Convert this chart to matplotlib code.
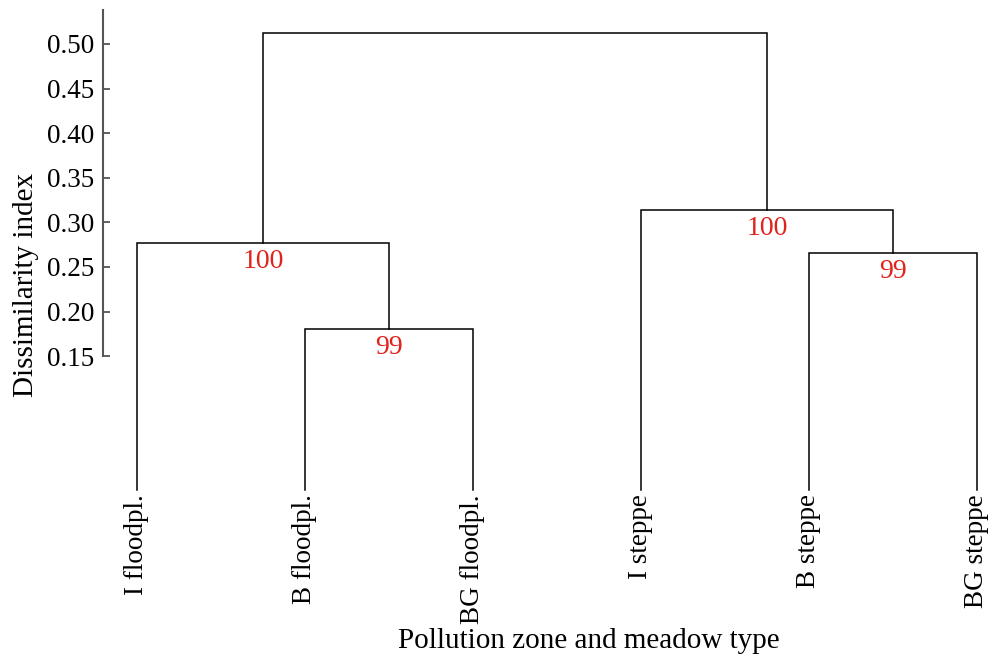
import matplotlib
matplotlib.use("Agg")
import matplotlib.pyplot as plt

plt.rcParams['font.family'] = ['Liberation Serif', 'DejaVu Serif']

leaf_labels = ["I floodpl.", "B floodpl.", "BG floodpl.", "I steppe", "B steppe", "BG steppe"]
# merges: (node_a, node_b, height, support); nodes 0-5 leaves, 6+ merged clusters
merge_a = [1, 4, 0, 3, 8]
merge_b = [2, 5, 6, 7, 9]
merge_h = [0.181, 0.266, 0.277, 0.314, 0.512]
merge_support = ["99", "99", "100", "100", ""]
yticks = [0.15, 0.20, 0.25, 0.30, 0.35, 0.40, 0.45, 0.50]

fig = plt.figure(figsize=(9.9, 6.54), dpi=100)
ax = fig.add_axes([103/990, (654-490)/654, (985-103)/990, 480/654])

xs = {i: float(i) for i in range(len(leaf_labels))}
hs = {i: 0.0 for i in range(len(leaf_labels))}
red = '#e0231c'
for k, (a, b, h, s) in enumerate(zip(merge_a, merge_b, merge_h, merge_support)):
    node = len(leaf_labels) + k
    xa, xb = xs[a], xs[b]
    ax.plot([xa, xa, xb, xb], [hs[a], h, h, hs[b]], color='black', lw=1.1,
            solid_joinstyle='miter', clip_on=False)
    xs[node] = (xa + xb) / 2
    hs[node] = h
    if s:
        ax.text(xs[node], h - 0.007, s, color=red, ha='center', va='top', fontsize=20)

for i, lab in enumerate(leaf_labels):
    ax.text(i, -0.005, lab, rotation=90, ha='center', va='top', fontsize=19.5)

ax.set_xlim(-0.202, 5.048)
ax.set_ylim(0, 0.538)
for sp in ['top', 'right', 'bottom']:
    ax.spines[sp].set_visible(False)
ax.spines['left'].set_bounds(0.15, 0.538)
ax.spines['left'].set_color('#555555')
ax.spines['left'].set_linewidth(1.5)
ax.set_xticks([])
ax.set_yticks(yticks)
ax.set_yticklabels([f"{t:.2f}" for t in yticks], fontsize=19.5)
ax.tick_params(axis='y', direction='in', length=5, width=1.3, color='#555555', pad=6)
ax.set_ylabel("Dissimilarity index", fontsize=21)
ax.yaxis.set_label_coords(-0.073, 0.427)
fig.text(589/990, 1 - 641/654, "Pollution zone and meadow type", ha='center', va='center', fontsize=21)

fig.savefig("out.png", dpi=100)
